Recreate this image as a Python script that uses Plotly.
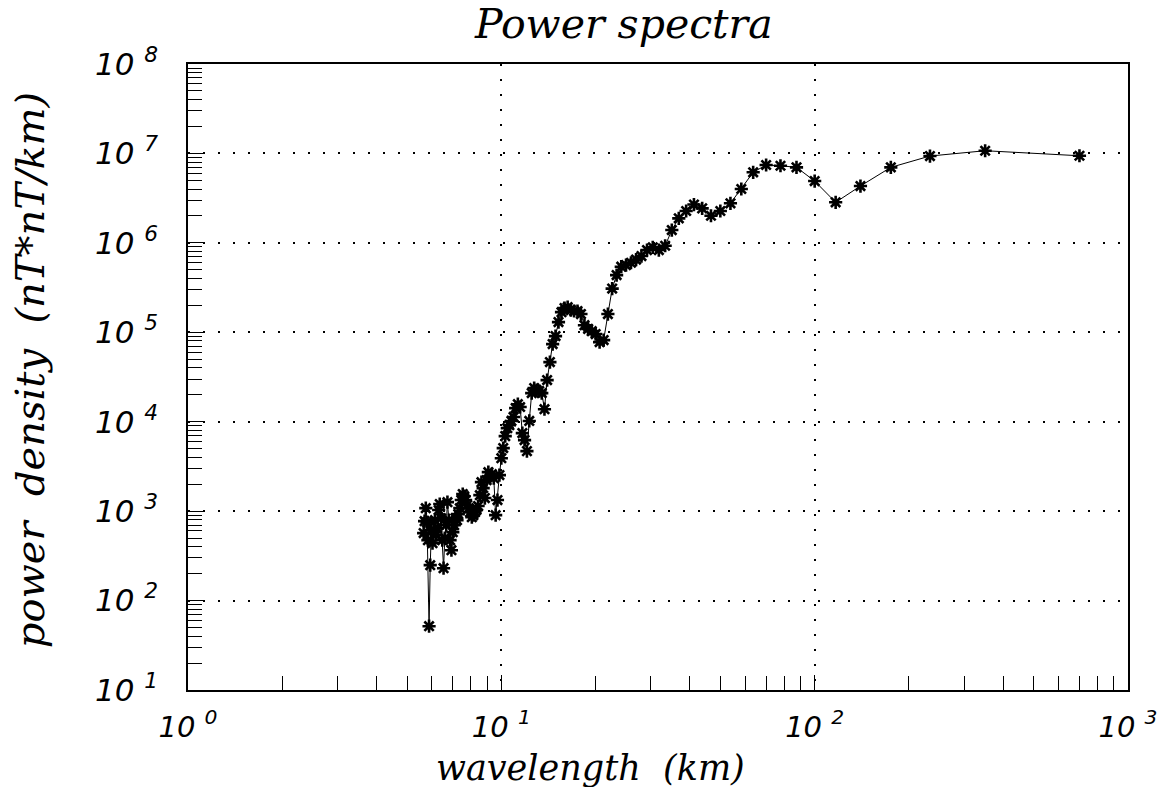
import plotly.graph_objects as go

# wavelength (km) -- harmonics of a ~700 km profile
wavelength = [
    700, 350, 233.33, 175, 140, 116.67, 100, 87.5, 77.78, 70,
    63.64, 58.33, 53.85, 50, 46.67, 43.75, 41.18, 38.89, 36.84, 35,
    33.33, 31.82, 30.43, 29.17, 28, 26.92, 25.93, 25, 24.14, 23.33,
    22.58, 21.88, 21.21, 20.59, 20, 19.44, 18.92, 18.42, 17.95, 17.5,
    17.07, 16.67, 16.28, 15.91, 15.56, 15.22, 14.89, 14.58, 14.29, 14,
    13.73, 13.46, 13.21, 12.96, 12.73, 12.5, 12.28, 12.07, 11.86, 11.67,
    11.48, 11.29, 11.11, 10.94, 10.77, 10.61, 10.45, 10.29, 10.14, 10,
    9.86, 9.72, 9.59, 9.46, 9.33, 9.21, 9.09, 8.97, 8.86, 8.75,
    8.64, 8.54, 8.43, 8.33, 8.24, 8.14, 8.05, 7.95, 7.87, 7.78,
    7.69, 7.61, 7.53, 7.45, 7.37, 7.29, 7.22, 7.14, 7.07, 7.0,
    6.93, 6.86, 6.80, 6.73, 6.67, 6.60, 6.54, 6.48, 6.42, 6.36,
    6.31, 6.25, 6.19, 6.14, 6.09, 6.03, 5.98, 5.93, 5.88, 5.83,
    5.79, 5.74, 5.69, 5.65,
]

# power density (nT*nT/km)
power = [
    9.42e6, 1.072e7, 9.35e6, 6.99e6, 4.32e6, 2.84e6, 4.91e6, 6.99e6, 7.28e6, 7.42e6,
    6.15e6, 4.0e6, 2.77e6, 2.27e6, 2.01e6, 2.43e6, 2.68e6, 2.27e6, 1.88e6, 1.39e6,
    9.28e5, 8.31e5, 8.91e5, 8.31e5, 7.12e5, 6.50e5, 5.99e5, 5.65e5, 5.41e5, 4.36e5,
    3.08e5, 1.60e5, 8.18e4, 7.77e4, 9.55e4, 1.03e5, 1.09e5, 1.20e5, 1.60e5, 1.73e5,
    1.73e5, 1.77e5, 1.91e5, 1.87e5, 1.68e5, 1.30e5, 9.07e4, 7.38e4, 4.64e4, 2.92e4,
    1.38e4, 2.09e4, 2.20e4, 2.26e4, 2.38e4, 2.09e4, 1.02e4, 4.69e3, 6.23e3, 7.46e3,
    1.46e4, 1.57e4, 1.42e4, 1.13e4, 1.02e4, 9.16e3, 8.48e3, 6.90e3, 5.07e3, 3.91e3,
    2.53e3, 1.33e3, 9.02e2, 2.34e3, 2.59e3, 2.40e3, 2.73e3, 2.22e3, 1.40e3, 1.81e3,
    2.11e3, 1.51e3, 1.14e3, 1.03e3, 9.75e2, 9.02e2, 8.57e2, 9.75e2, 1.08e3, 1.17e3,
    1.33e3, 1.47e3, 1.55e3, 1.33e3, 1.08e3, 9.25e2, 7.93e2, 8.35e2, 6.97e2, 5.82e2,
    3.66e2, 4.74e2, 7.93e2, 1.26e3, 6.97e2, 4.99e2, 2.30e2, 4.74e2, 8.35e2, 1.20e3,
    1.03e3, 6.45e2, 5.39e2, 7.93e2, 6.13e2, 4.39e2, 6.13e2, 2.49e2, 51.7, 4.74e2,
    7.53e2, 1.08e3, 7.73e2, 5.68e2,
]

x_tickvals = [1, 10, 100, 1000]
x_ticktext = ["10 <sup>0</sup>", "10 <sup>1</sup>", "10 <sup>2</sup>", "10 <sup>3</sup>"]
y_tickvals = [1e1, 1e2, 1e3, 1e4, 1e5, 1e6, 1e7, 1e8]
y_ticktext = ["10 <sup>%d</sup>" % k for k in range(1, 9)]

x_minor = [m * 10 ** d for d in range(0, 3) for m in range(2, 10)]
y_minor = [m * 10 ** d for d in range(1, 8) for m in range(2, 10)]

title_text = "Power spectra"
x_title = "wavelength  (km)"
y_title = "power  density  (nT*nT/km)"

fig = go.Figure()
fig.add_trace(go.Scatter(
    x=wavelength, y=power, mode="lines+markers",
    line=dict(color="black", width=1),
    marker=dict(symbol="asterisk-open", size=11, color="black",
                line=dict(color="black", width=2.6)),
    showlegend=False,
))

xtickfont = dict(family="DejaVu Sans", size=29, color="black", style="italic")
ytickfont = dict(family="DejaVu Sans", size=31, color="black", style="italic")
gridstyle = dict(showgrid=True, gridcolor="black", gridwidth=1.5, griddash="2px,13px")

fig.update_xaxes(
    type="log", range=[0, 3], tickmode="array", tickvals=x_tickvals, ticktext=x_ticktext,
    ticks="inside", ticklen=15, tickwidth=1, tickcolor="black",
    showline=True, linecolor="black", linewidth=1.5, mirror=True,
    tickfont=xtickfont, ticklabelstandoff=10, zeroline=False,
    minor=dict(tickmode="array", tickvals=x_minor, ticks="inside", ticklen=14,
               tickwidth=1, tickcolor="black", showgrid=False),
    **gridstyle,
)
fig.update_yaxes(
    type="log", range=[1, 8], tickmode="array", tickvals=y_tickvals, ticktext=y_ticktext,
    ticks="inside", ticklen=15, tickwidth=1, tickcolor="black",
    showline=True, linecolor="black", linewidth=1.5, mirror=True,
    tickfont=ytickfont, ticklabelstandoff=22, zeroline=False,
    minor=dict(tickmode="array", tickvals=y_minor, ticks="inside", ticklen=14,
               tickwidth=1, tickcolor="black", showgrid=False),
    **gridstyle,
)

titlefont = dict(family="DejaVu Serif", size=41, color="black", style="italic")
fig.add_annotation(text=title_text, xref="paper", yref="paper", x=0.4633, y=1.064,
                   xanchor="center", yanchor="middle", showarrow=False, font=titlefont)
fig.add_annotation(text=x_title, xref="paper", yref="paper", x=0.4287, y=-0.124,
                   xanchor="center", yanchor="middle", showarrow=False,
                   font=dict(family="DejaVu Serif", size=35, color="black", style="italic"))
fig.add_annotation(text=y_title, xref="paper", yref="paper", x=-0.168, y=0.511,
                   xanchor="center", yanchor="middle", showarrow=False, textangle=-90,
                   font=dict(family="DejaVu Serif", size=40, color="black", style="italic"))

fig.update_layout(
    width=1158, height=787,
    margin=dict(l=188, r=30, t=64, b=97, autoexpand=False),
    paper_bgcolor="white", plot_bgcolor="white",
)

fig.write_html("out.html")
